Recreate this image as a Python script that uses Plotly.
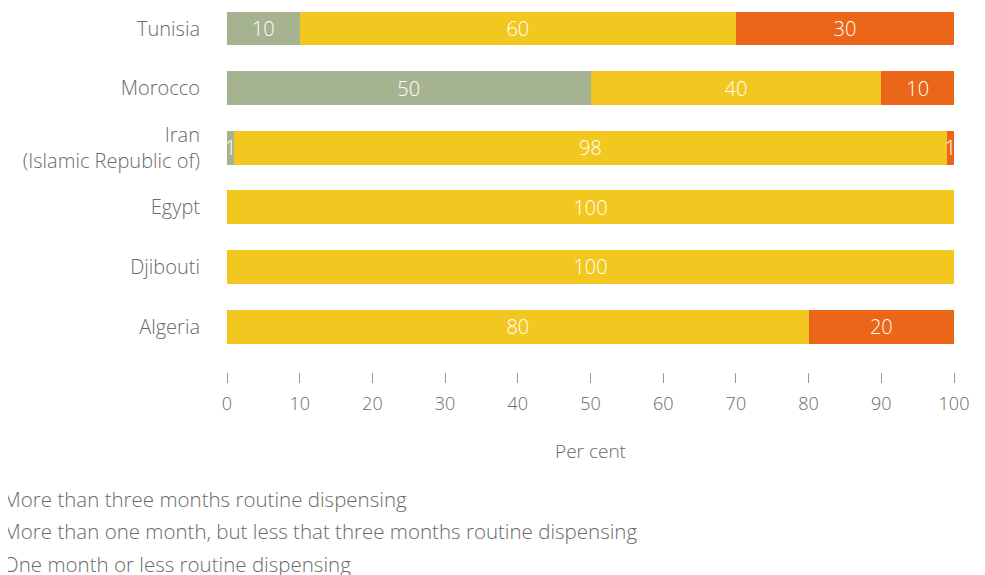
import plotly.graph_objects as go

countries = ["Algeria", "Djibouti", "Egypt", "Iran<br>(Islamic Republic of)", "Morocco", "Tunisia"]
more_than_three = [0, 0, 0, 1, 50, 10]
one_to_three = [80, 100, 100, 98, 40, 60]
one_or_less = [20, 0, 0, 1, 10, 30]
x_ticks = [0, 10, 20, 30, 40, 50, 60, 70, 80, 90, 100]

series = [
    ("More than three months routine dispensing", more_than_three, "#A6B390"),
    ("More than one month, but less that three months routine dispensing", one_to_three, "#F2C71F"),
    ("One month or less routine dispensing", one_or_less, "#EC6619"),
]

FONT = "Open Sans, Lato, sans-serif"
GREY = "#6a6a6a"

fig = go.Figure()
for i, (name, vals, color) in enumerate(series):
    fig.add_trace(go.Bar(
        y=countries, x=vals, name=name, orientation="h",
        legendgroup=f"g{i}",
        marker=dict(color=color, line=dict(width=0)),
        text=[str(v) if v else "" for v in vals],
        textposition="inside", insidetextanchor="middle",
        textfont=dict(color="white", size=20, family=FONT, weight=300),
        hoverinfo="skip",
    ))

fig.update_layout(
    barmode="stack",
    bargap=0.43,
    width=985, height=575,
    margin=dict(l=219, r=39, t=0, b=211, autoexpand=False),
    paper_bgcolor="white", plot_bgcolor="white",
    font=dict(family=FONT, color=GREY, size=18, weight=300),
    uniformtext=dict(minsize=20, mode="show"),
    showlegend=True,
    legend=dict(
        x=-0.363, xanchor="left", y=-0.294, yanchor="top",
        traceorder="grouped", font=dict(size=20.5, color=GREY, weight=300),
        tracegroupgap=3, bgcolor="rgba(0,0,0,0)",
    ),
)
fig.update_xaxes(
    range=[0, 100], tickvals=x_ticks, ticks="outside", ticklen=10,
    tickcolor="#999999", tickwidth=1, showgrid=False, zeroline=False,
    showline=False, ticklabelstandoff=5, automargin=False,
    tickfont=dict(size=18, color=GREY, weight=300),
    title=dict(text="Per cent", font=dict(size=19, color=GREY, weight=300), standoff=31),
    fixedrange=True,
)
fig.update_yaxes(
    range=[-0.763, 5.344], showgrid=False, zeroline=False, showline=False,
    ticks="", ticklabelstandoff=26, automargin=False,
    tickfont=dict(size=20, color=GREY, weight=300),
    fixedrange=True,
)

fig.write_html("out.html")
